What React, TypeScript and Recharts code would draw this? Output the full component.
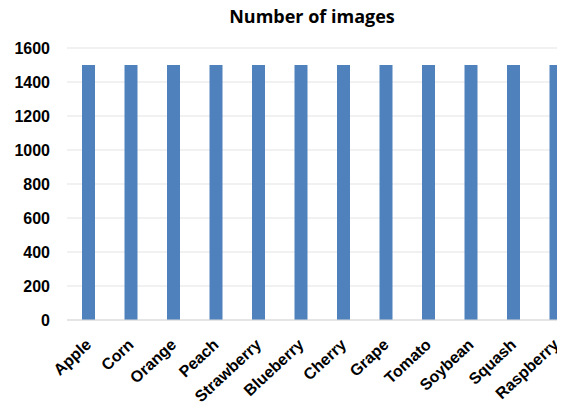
import React from 'react';
import { BarChart, Bar, XAxis, YAxis, CartesianGrid } from 'recharts';

const categories = ['Apple', 'Corn', 'Orange', 'Peach', 'Strawberry', 'Blueberry', 'Cherry', 'Grape', 'Tomato', 'Soybean', 'Squash', 'Raspberry'];
const imageCounts = [1500, 1500, 1500, 1500, 1500, 1500, 1500, 1500, 1500, 1500, 1500, 1500];
const yTicks = [0, 200, 400, 600, 800, 1000, 1200, 1400, 1600];

const data = categories.map((name, i) => ({ name, value: imageCounts[i] }));

const labelFont = '"Liberation Sans", Arial, sans-serif';

const renderAngledTick = (props: any) => {
  const { x, y, payload } = props;
  return (
    <g transform={`translate(${x + 4},${y + 18})`}>
      <text
        x={0}
        y={0}
        transform="rotate(-43)"
        textAnchor="end"
        fontFamily={labelFont}
        fontWeight="bold"
        fontSize={16}
        fill="#000"
      >
        {payload.value}
      </text>
    </g>
  );
};

const App: React.FC = () => {
  return (
    <div style={{ position: 'relative', margin: '-8px 0 0 -8px', width: 565, height: 410, overflow: 'hidden', background: '#fff' }}>
      <div
        style={{
          position: 'absolute', left: 0, top: 4, width: 624, textAlign: 'center',
          fontFamily: '"Open Sans", sans-serif', fontWeight: 'bold', fontSize: 18, color: '#000'
        }}
      >
        Number of images
      </div>
      <BarChart
        width={580}
        height={410}
        data={data}
        margin={{ top: 48, right: 3, bottom: 0, left: 0 }}
        barSize={13}
      >
        <CartesianGrid vertical={false} stroke="#e3e3e3" />
        <XAxis
          dataKey="name"
          interval={0}
          height={90}
          tick={renderAngledTick}
          tickLine={false}
          axisLine={{ stroke: '#d9d9d9' }}
        />
        <YAxis
          width={67}
          domain={[0, 1600]}
          ticks={yTicks}
          tickLine={false}
          axisLine={false}
          tickMargin={11}
          tick={{ fontFamily: labelFont, fontWeight: 'bold', fontSize: 16, fill: '#000' }}
        />
        <Bar dataKey="value" fill="#4F81BD" isAnimationActive={false} />
      </BarChart>
    </div>
  );
};

export default App;
